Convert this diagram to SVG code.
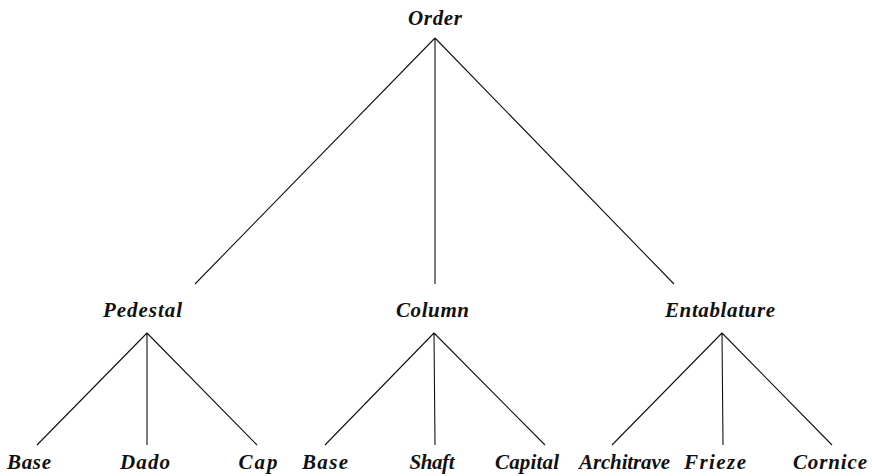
<svg xmlns="http://www.w3.org/2000/svg" width="872" height="476" viewBox="0 0 872 476">
<style>
.lbl{font-family:"Liberation Serif","Times New Roman",serif;font-weight:bold;font-style:italic;font-size:21px;fill:#111;text-anchor:middle}
.edge{stroke:#111;stroke-width:1.1;fill:none}
</style>
<rect width="872" height="476" fill="#fff"/>
<g id="connectors">
<path class="edge" d="M435,38 L195,284 M435,38 L435,284 M435,38 L674,284"/>
<path class="edge" d="M147,333 L37,445 M147,333 L147,445 M147,333 L257,445"/>
<path class="edge" d="M434,333 L325,445 M434,333 L435,445 M434,333 L545,445"/>
<path class="edge" d="M722,333 L612,445 M722,333 L723,445 M722,333 L832,445"/>
</g>
<g id="order"><text class="lbl" x="435" y="25" textLength="54" lengthAdjust="spacing">Order</text></g>
<g id="pedestal"><text class="lbl" x="142.5" y="317" textLength="79" lengthAdjust="spacing">Pedestal</text></g>
<g id="column"><text class="lbl" x="432.5" y="317" textLength="73" lengthAdjust="spacing">Column</text></g>
<g id="entablature"><text class="lbl" x="720" y="317" textLength="110" lengthAdjust="spacing">Entablature</text></g>
<g id="pedestal-base"><text class="lbl" x="29" y="469" textLength="44" lengthAdjust="spacing">Base</text></g>
<g id="dado"><text class="lbl" x="145" y="469" textLength="50" lengthAdjust="spacing">Dado</text></g>
<g id="cap"><text class="lbl" x="258" y="469" textLength="39" lengthAdjust="spacing">Cap</text></g>
<g id="column-base"><text class="lbl" x="325" y="469" textLength="46" lengthAdjust="spacing">Base</text></g>
<g id="shaft"><text class="lbl" x="432" y="469" textLength="45" lengthAdjust="spacing">Shaft</text></g>
<g id="capital"><text class="lbl" x="527" y="469" textLength="64" lengthAdjust="spacing">Capital</text></g>
<g id="architrave"><text class="lbl" x="624.5" y="469" textLength="91" lengthAdjust="spacing">Architrave</text></g>
<g id="frieze"><text class="lbl" x="715" y="469" textLength="62" lengthAdjust="spacing">Frieze</text></g>
<g id="cornice"><text class="lbl" x="830" y="469" textLength="74" lengthAdjust="spacing">Cornice</text></g>
</svg>
